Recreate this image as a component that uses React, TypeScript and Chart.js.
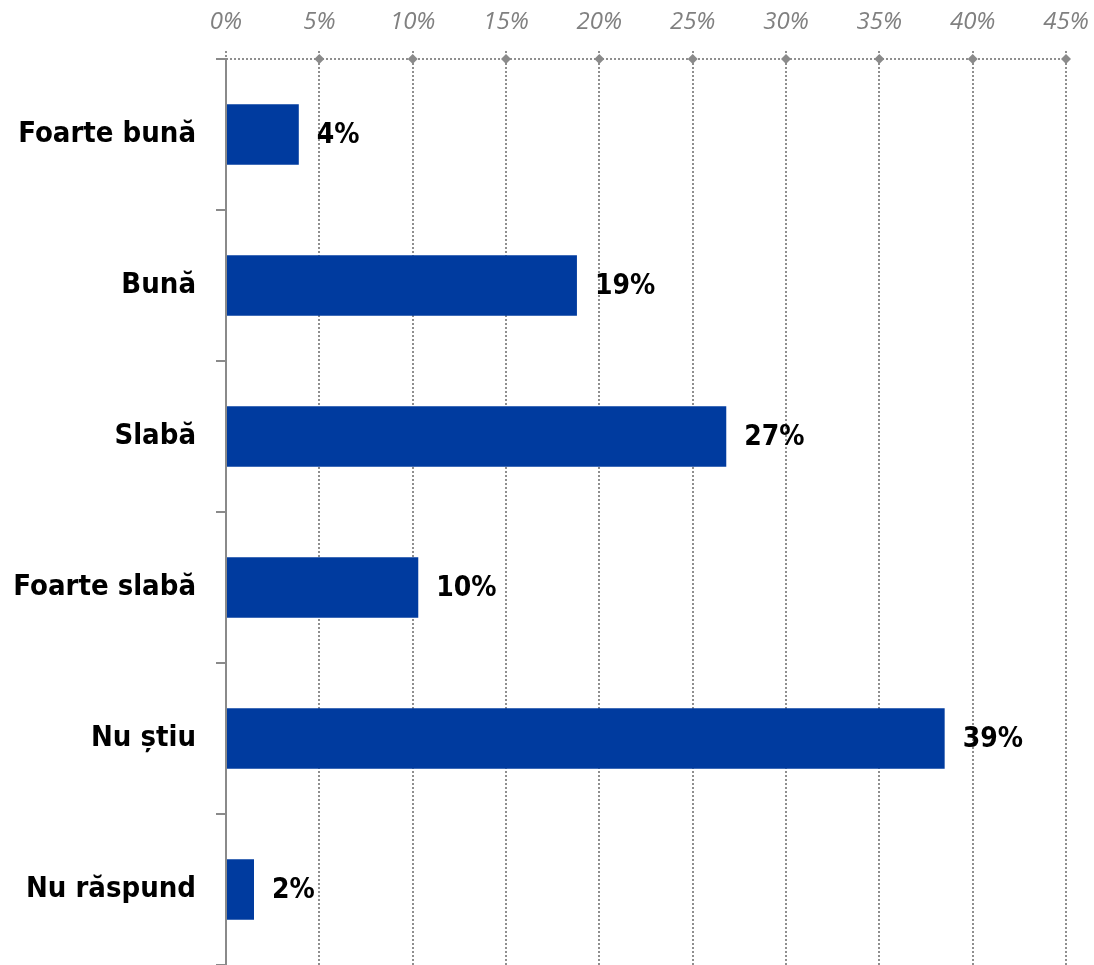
import React, { useEffect, useRef } from "react";
import { Chart, registerables } from "chart.js";

Chart.register(...registerables);

const categories = ["Foarte bună", "Bună", "Slabă", "Foarte slabă", "Nu știu", "Nu răspund"];
const values = [3.9, 18.8, 26.8, 10.3, 38.5, 1.5];
const valueLabels = ["4%", "19%", "27%", "10%", "39%", "2%"];
const xTicks = [0, 5, 10, 15, 20, 25, 30, 35, 40, 45];

const GRAY = "#8a8a8a";
const GRID = "#8f8f8f";
const BAR = "#003B9F";
const LABEL_FONT = "'DejaVu Sans Condensed', 'DejaVu Sans', sans-serif";

const labelPlugin = {
  id: "valueLabels",
  afterDatasetsDraw(chart: any) {
    const ctx = chart.ctx;
    const meta = chart.getDatasetMeta(0);
    ctx.save();
    ctx.font = `bold 28px ${LABEL_FONT}`;
    ctx.fillStyle = "#000";
    ctx.textAlign = "left";
    ctx.textBaseline = "middle";
    meta.data.forEach((el: any, i: number) => {
      ctx.fillText(valueLabels[i], el.x + 18, el.y + 1);
    });
    ctx.restore();
  },
};

const axisPlugin = {
  id: "topAxisDiamonds",
  afterDraw(chart: any) {
    const ctx = chart.ctx;
    const xs = chart.scales.x;
    const top = chart.chartArea.top;
    ctx.save();
    ctx.strokeStyle = GRID;
    ctx.lineWidth = 2;
    ctx.setLineDash([2, 2]);
    ctx.beginPath();
    ctx.moveTo(chart.chartArea.left, top);
    ctx.lineTo(chart.chartArea.right, top);
    ctx.stroke();
    ctx.setLineDash([]);
    ctx.fillStyle = GRAY;
    xTicks.forEach((t) => {
      if (t === 0) return;
      const px = xs.getPixelForValue(t);
      const s = 5;
      ctx.beginPath();
      ctx.moveTo(px, top - s);
      ctx.lineTo(px + s, top);
      ctx.lineTo(px, top + s);
      ctx.lineTo(px - s, top);
      ctx.closePath();
      ctx.fill();
    });
    ctx.strokeStyle = GRAY;
    ctx.lineWidth = 2;
    ctx.beginPath();
    ctx.moveTo(chart.chartArea.left, top - 1);
    ctx.lineTo(chart.chartArea.left, chart.chartArea.bottom);
    ctx.stroke();
    ctx.restore();
  },
};

export default function App() {
  const ref = useRef<HTMLCanvasElement>(null);
  useEffect(() => {
    if (!ref.current) return;
    const chart = new Chart(ref.current, {
      type: "bar",
      data: {
        labels: categories,
        datasets: [
          {
            data: values,
            backgroundColor: BAR,
            borderWidth: 0,
            barPercentage: 0.4,
            categoryPercentage: 1,
          },
        ],
      },
      plugins: [labelPlugin, axisPlugin],
      options: {
        indexAxis: "y",
        responsive: false,
        animation: false,
        layout: { padding: { left: 0, right: 28, top: 0, bottom: 0 } },
        plugins: { legend: { display: false }, tooltip: { enabled: false } },
        scales: {
          x: {
            position: "top",
            min: 0,
            max: 45,
            afterBuildTicks(scale: any) {
              scale.ticks = xTicks.map((v) => ({ value: v }));
            },
            afterFit(scale: any) {
              scale.height = 59;
              scale.paddingLeft = 0;
              scale.paddingRight = 0;
              scale.paddingTop = 0;
              scale.paddingBottom = 0;
            },
            border: { display: false, dash: [2, 2] },
            grid: {
              color: GRID,
              lineWidth: 2,
              tickLength: 8,
              tickBorderDash: [2, 2],
              borderDash: [2, 2],
              drawTicks: true,
            } as any,
            ticks: {
              padding: 14,
              color: "#808080",
              font: { family: "'Open Sans', sans-serif", size: 24, style: "italic" },
              callback: (v: any) => v + "%",
            },
          },
          y: {
            afterFit(scale: any) {
              scale.width = 226;
              scale.paddingTop = 0;
              scale.paddingBottom = 0;
              scale.paddingLeft = 0;
              scale.paddingRight = 0;
            },
            border: { display: false },
            grid: {
              drawOnChartArea: false,
              drawTicks: true,
              tickLength: 10,
              color: GRAY,
              lineWidth: 2,
              offset: true,
            },
            ticks: {
              padding: 20,
              color: "#000",
              font: { family: LABEL_FONT, size: 29, weight: "bold" },
            },
          },
        },
      },
    });
    return () => chart.destroy();
  }, []);
  return (
    <div style={{ position: "absolute", left: 0, top: 0, width: 1094, height: 965 }}>
      <canvas ref={ref} width={1094} height={965} style={{ display: "block" }} />
    </div>
  );
}
